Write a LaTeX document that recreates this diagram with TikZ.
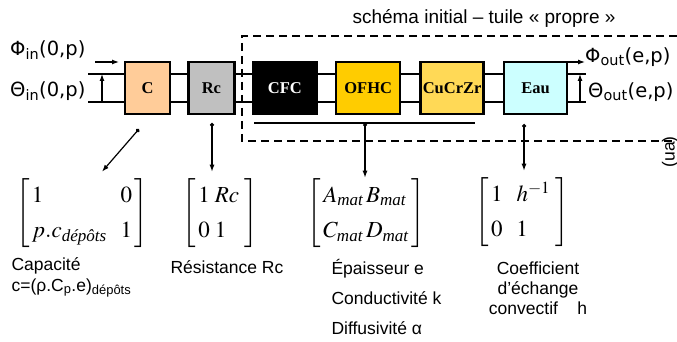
\documentclass[tikz,border=0pt]{standalone}
\usepackage{amsmath}
\usepackage{mathptmx}
\usepackage{fontspec}
\setmainfont{Liberation Serif}
\setsansfont{Liberation Sans}
\newfontfamily\verd{DejaVu Sans}
\usetikzlibrary{arrows.meta,positioning}
\renewcommand{\arraystretch}{1.3}
\definecolor{peche}{HTML}{FFCC99}
\definecolor{gris}{HTML}{C0C0C0}
\definecolor{orofhc}{HTML}{FFCC00}
\definecolor{jaune}{HTML}{FFD956}
\definecolor{eau}{HTML}{CCFFFF}
\tikzset{
  blk/.style={draw,line width=2.4pt,minimum height=52pt,inner sep=0pt,font=\fontsize{16.5}{18}\selectfont\bfseries},
  wire/.style={line width=2.6pt},
  fleche/.style={line width=1.2pt,-{Latex[length=7pt,width=5pt]}},
  pointe/.style={line width=1.2pt,{Circle[length=4pt]}-{Latex[length=7pt,width=5pt]}},
  pointille/.style={line width=1.8pt,dash pattern=on 8pt off 5pt},
  lbl/.style={font=\sffamily\fontsize{17.5}{21}\selectfont},
  flux/.style={font=\verd\fontsize{19.5}{21}\selectfont,inner sep=0pt},
  mat/.style={font=\fontsize{23}{27}\selectfont,inner sep=0pt},
}
\begin{document}
\begin{tikzpicture}[x=1pt,y=1pt]
  \useasboundingbox (0,0) rectangle (677,342);
  % la chaine des quadripoles
  \node[blk,fill=peche,minimum width=45pt] (bC) at (147.5,254) {C};
  \node[blk,fill=gris,minimum width=46pt,right=16pt of bC] (bRc) {Rc};
  \node[blk,fill=black,text=white,minimum width=64pt,right=16pt of bRc] (bCFC) {CFC};
  \node[blk,fill=orofhc,minimum width=64pt,right=17pt of bCFC] (bOFHC) {OFHC};
  \node[blk,fill=jaune,minimum width=63pt,right=18pt of bOFHC] (bCu) {CuCrZr};
  \node[blk,fill=eau,minimum width=63pt,right=18pt of bCu] (bEau) {Eau};
  \foreach \a/\b in {bC/bRc,bRc/bCFC,bCFC/bOFHC,bOFHC/bCu,bCu/bEau}{
    \draw[wire] ([yshift=14pt]\a.east) -- ([yshift=14pt]\b.west);
    \draw[wire] ([yshift=-14pt]\a.east) -- ([yshift=-14pt]\b.west);
  }
  % entree
  \coordinate (inH) at (88,268);
  \coordinate (inB) at (88,240);
  \draw[wire] (inH) -- (inH -| bC.west);
  \draw[wire] (inB) -- (inB -| bC.west);
  \coordinate (tinB) at (102,240);
  \draw[fleche] (tinB) -- (tinB |- inH);
  \coordinate (phiA) at (95,280);
  \coordinate (phiB) at (119,280);
  \draw[fleche] (phiA) -- (phiB);
  \node[flux,anchor=west] (phin) at (10,292) {Φ\textsubscript{in}(0,p)};
  \node[flux,anchor=west] (thin) at (10,251) {Θ\textsubscript{in}(0,p)};
  % sortie
  \coordinate (outH) at (586,268);
  \coordinate (outB) at (586,240);
  \draw[wire] (bEau.east |- outH) -- (outH);
  \draw[wire] (bEau.east |- outB) -- (outB);
  \coordinate (toutB) at (580,240);
  \draw[fleche] (toutB) -- (toutB |- outH);
  \coordinate (phoA) at (562,280);
  \coordinate (phoB) at (585,280);
  \draw[fleche] (phoA) -- (phoB);
  \node[flux,anchor=west] (phout) at (585,285) {Φ\textsubscript{out}(e,p)};
  \node[flux,anchor=west] (thout) at (588,250) {Θ\textsubscript{out}(e,p)};
  % tuile propre
  \draw[pointille] (677,306) -- (242,306) -- (242,201) -- (677,201);
  \node[lbl,font=\sffamily\fontsize{19}{21}\selectfont] (titre) at (484,324) {schéma initial – tuile « propre »};
  \coordinate (barG) at (254,219);
  \coordinate (barD) at (475,219);
  \draw[line width=1.5pt] (barG) -- (barD);
  % matrices
  \node[mat] (mC) at (82,129) {$\left[\begin{array}{@{\hspace{2pt}}l@{\hspace{0.6em}}r@{\hspace{2pt}}}1 & 0\\ p.c_{\textit{dépôts}} & 1\end{array}\right]$};
  \node[mat] (mRc) at (220,129) {$\left[\begin{array}{@{\,}l@{\;}l@{\;}}1 & Rc\\ 0 & 1\end{array}\right]$};
  \node[mat] (mA) at (366,129) {$\left[\begin{array}{@{\,}l@{\,}l@{\,}}A_{\textit{mat}} & B_{\textit{mat}}\\ C_{\textit{mat}} & D_{\textit{mat}}\end{array}\right]$};
  \node[mat] (mH) at (522,130) {$\left[\begin{array}{@{\,}l@{\hspace{0.6em}}l@{\;}}1 & h^{-1}\\ 0 & 1\end{array}\right]$};
  \coordinate (dC) at (139,213);
  \coordinate (dRc) at (212,219);
  \coordinate (dA) at (365,219);
  \coordinate (dE) at (524,218);
  \draw[pointe] (dC) -- ([xshift=20pt,yshift=6pt]mC.north);
  \draw[pointe] (dRc) -- ([yshift=6pt]dRc |- mRc.north);
  \draw[pointe] (dA) -- (dA |- mA.north);
  \draw[pointe] (dE) -- ([yshift=6pt]dE |- mH.north);
  % legendes
  \node[lbl,anchor=west,align=left] (lC) at (8,64.5) {Capacité\\c=(ρ.C\textsubscript{p}.e)\textsubscript{dépôts}};
  \node[lbl] (lRc) at (227,75) {Résistance Rc};
  \node[lbl,anchor=west,align=left,font=\sffamily\fontsize{17.5}{30}\selectfont] (lA) at (328,45) {Épaisseur e\\Conductivité k\\Diffusivité α};
  \node[lbl,align=center,font=\sffamily\fontsize{17.5}{20}\selectfont] (lH) at (538,54) {Coefficient\\d'échange\\convectif\hspace{1.1em}h};
  \node[lbl,rotate=90] (ua) at (670,190) {(ua)};
\end{tikzpicture}
\end{document}
